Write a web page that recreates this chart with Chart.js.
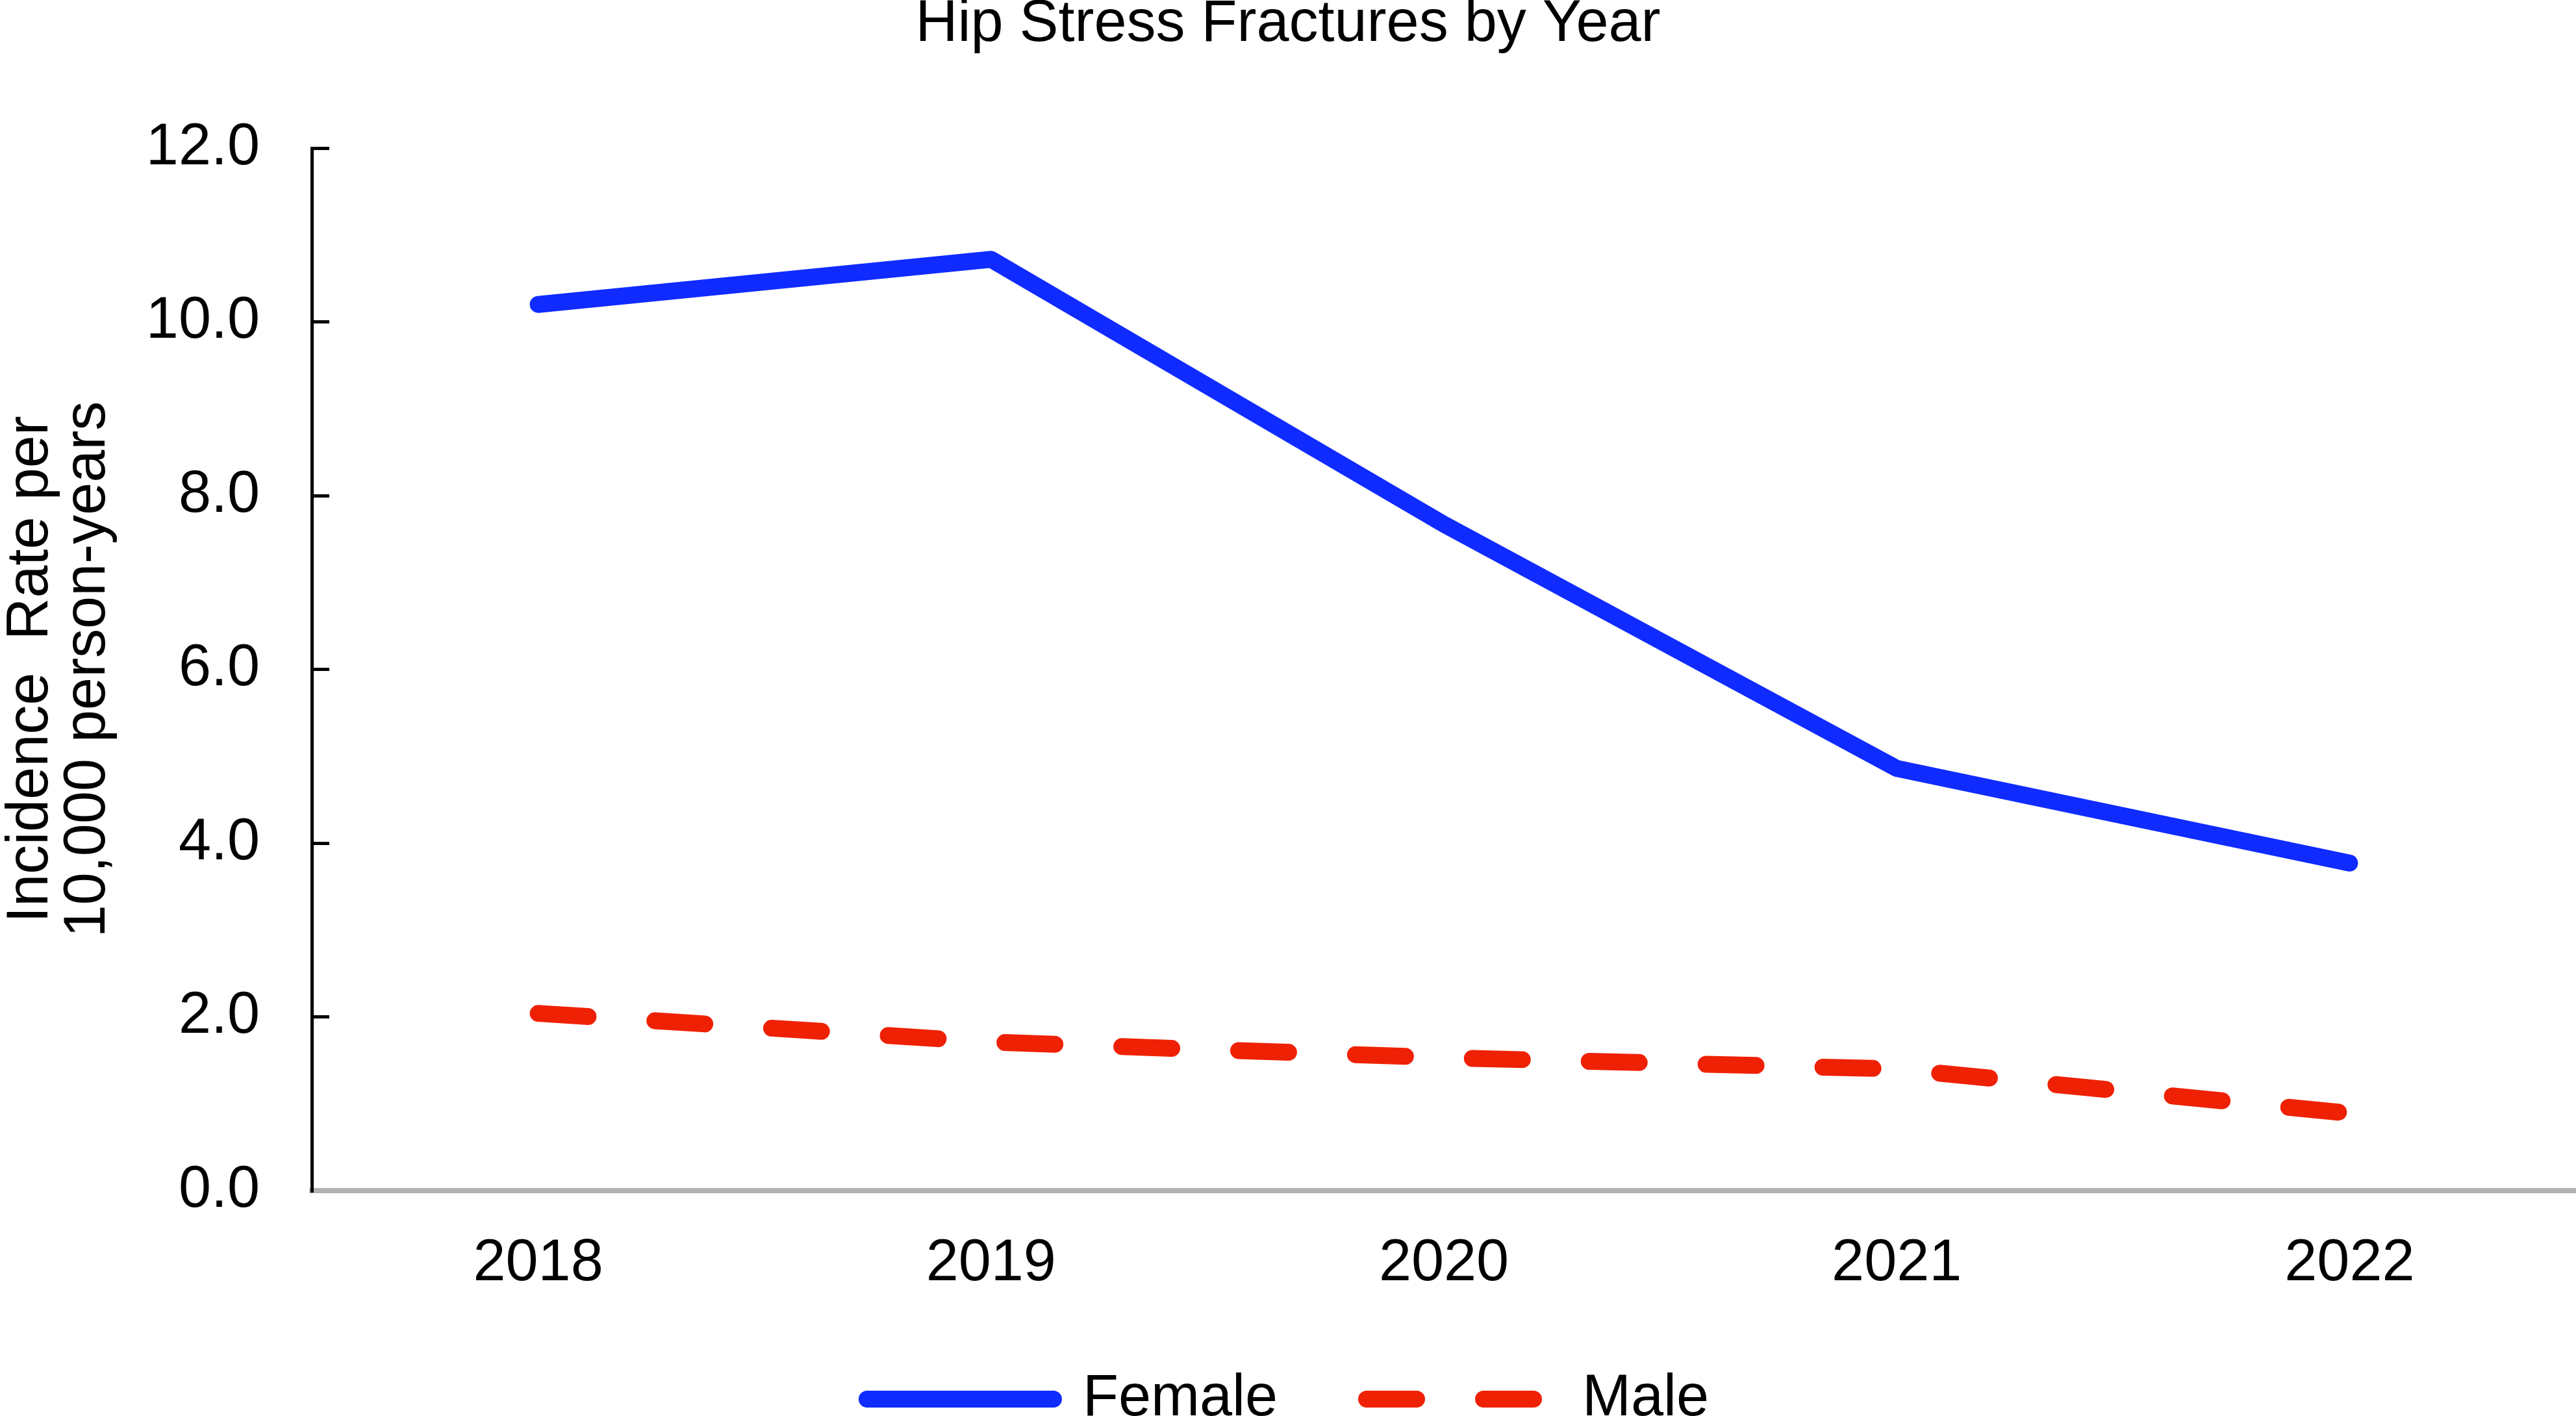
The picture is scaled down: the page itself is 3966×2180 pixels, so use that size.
<!DOCTYPE html>
<html>
<head>
<meta charset="utf-8">
<title>Hip Stress Fractures by Year</title>
<script src="https://cdn.jsdelivr.net/npm/chart.js@4.4.1/dist/chart.umd.min.js"></script>
<style>
  html, body { margin: 0; padding: 0; background: #fff; }
  #wrap { width: 3966px; height: 2180px; position: relative; }
</style>
</head>
<body>
<div id="wrap"><canvas id="fractureChart"></canvas></div>
<script>
var years = ['2018', '2019', '2020', '2021', '2022'];
var femaleRates = [10.2, 10.72, 7.67, 4.86, 3.77];
var maleRates = [2.04, 1.71, 1.53, 1.40, 0.89];
var yTicks = [0, 2, 4, 6, 8, 10, 12];
var seriesNames = ['Female', 'Male'];
var chartTitle = 'Hip Stress Fractures by Year';
var yTitle = ['Incidence  Rate per', '10,000 person-years'];

Chart.defaults.font.family = '"Liberation Sans", Arial, sans-serif';
Chart.defaults.color = '#000';

var fontSize = 90;

// point-style legend items take the point's style, so copy dash and caps from the dataset
function legendLabels(chart) {
  var items = Chart.defaults.plugins.legend.labels.generateLabels(chart);
  items.forEach(function(item) {
    var ds = chart.data.datasets[item.datasetIndex];
    item.lineDash = ds.borderDash || [];
    item.lineCap = ds.borderCapStyle;
    item.lineWidth = ds.borderWidth;
    item.strokeStyle = ds.borderColor;
  });
  return items;
}

var ctx = document.getElementById('fractureChart').getContext('2d');
var fractureChart = new Chart(ctx, {
  type: 'line',
  data: {
    labels: years,
    datasets: [
      {
        label: seriesNames[0],
        data: femaleRates,
        borderColor: '#0f2bff',
        backgroundColor: '#0f2bff',
        borderWidth: 26,
        borderCapStyle: 'round',
        borderJoinStyle: 'round',
        pointRadius: 0,
        tension: 0
      },
      {
        label: seriesNames[1],
        data: maleRates,
        borderColor: '#ef2105',
        backgroundColor: '#ef2105',
        borderWidth: 26,
        borderDash: [77, 103],
        borderCapStyle: 'round',
        borderJoinStyle: 'round',
        pointRadius: 0,
        tension: 0
      }
    ]
  },
  options: {
    responsive: true,
    maintainAspectRatio: false,
    animation: false,
    layout: {
      // legend box runs a little past the bottom edge, like the original
      padding: { left: 0, right: 0, top: 0, bottom: -29 }
    },
    plugins: {
      title: {
        display: true,
        text: chartTitle,
        color: '#000',
        font: { size: fontSize, weight: 'normal', lineHeight: 0.8 },
        padding: { top: 2, bottom: 154 }
      },
      legend: {
        display: true,
        position: 'bottom',
        labels: {
          usePointStyle: true,
          pointStyle: 'line',
          pointStyleWidth: 287,
          padding: 137,
          color: '#000',
          font: { size: fontSize },
          generateLabels: legendLabels
        }
      },
      tooltip: { enabled: false }
    },
    scales: {
      x: {
        offset: true,
        grid: { display: false, drawTicks: false },
        border: { display: true, color: '#b3b3b3', width: 8 },
        ticks: {
          color: '#000',
          padding: 59,
          font: { size: fontSize }
        },
        afterFit: function(scale) {
          scale.height = 139;
        }
      },
      y: {
        min: yTicks[0],
        max: yTicks[yTicks.length - 1],
        afterBuildTicks: function(scale) {
          scale.ticks = yTicks.map(function(v) { return { value: v }; });
        },
        grid: {
          display: true,
          drawOnChartArea: false,
          drawTicks: true,
          tickLength: -27,
          color: '#000',
          lineWidth: 5
        },
        border: { display: true, color: '#000', width: 5 },
        ticks: {
          color: '#000',
          padding: 107,
          font: { size: fontSize },
          callback: function(value) {
            return Number(value).toFixed(1);
          }
        },
        title: {
          display: true,
          text: yTitle,
          color: '#000',
          font: { size: fontSize, lineHeight: 0.98 },
          padding: { top: 4, bottom: 0 }
        },
        afterFit: function(scale) {
          scale.width = 480;
        }
      }
    }
  }
});
</script>
</body>
</html>
